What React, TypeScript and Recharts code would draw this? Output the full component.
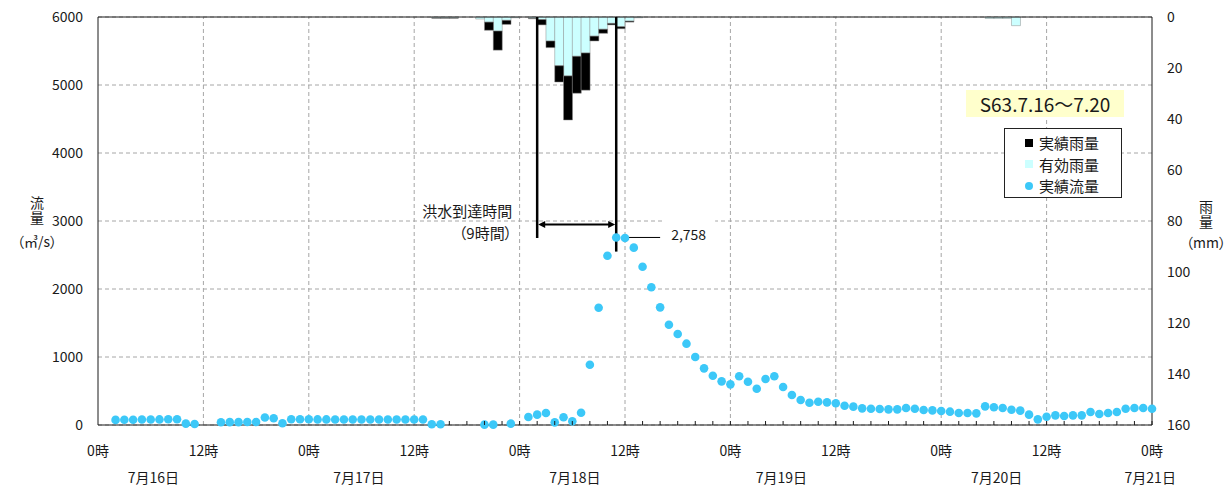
import { ComposedChart, Bar, Line, XAxis, YAxis, CartesianGrid, ReferenceLine } from "recharts";

const FONT = "'Noto Sans CJK JP', 'Noto Sans', sans-serif";
const INK = "#1a1a1a";
const GRID = "#a6a6a6";

// hours counted from 7/16 0時 (0) to 7/21 0時 (120)
const hours = Array.from({ length: 121 }, (_, i) => i);

// 実績流量 (m3/s), hourly, null = no record
const flow = [
  null, null, 75, 78, 78, 80, 80, 82, 85, 85,
  20, 15, null, null, 40, 42, 42, 45, 45, 110,
  100, 25, 85, 85, 85, 82, 82, 80, 80, 80,
  80, 80, 80, 80, 80, 80, 80, 80, 10, 10,
  null, null, null, null, 5, 5, null, 20, null, 118,
  152, 176, 39, 113, 54, 181, 887, 1725, 2490, 2758,
  2750, 2608, 2328, 2025, 1730, 1475, 1338, 1196, 1000, 833,
  725, 642, 598, 716, 637, 534, 676, 716, 559, 441,
  368, 328, 343, 333, 319, 284, 270, 245, 240, 235,
  230, 230, 250, 240, 220, 215, 205, 196, 176, 176,
  171, 274, 260, 250, 225, 211, 152, 83, 122, 142,
  132, 142, 142, 191, 162, 176, 191, 240, 250, 250,
  240,
];

// hourly rain (mm); a bar covers [hour, hour + 1)
const rainHours = [38, 39, 40, 43, 44, 45, 46, 47, 49, 50, 51, 52, 53, 54, 55, 56, 57, 58, 59, 60, 61, 101, 102, 103, 104];
const rainActual = [0.5, 0.5, 0.5, 0.8, 5.2, 13.0, 2.9, 0.3, 0.7, 3.1, 12.0, 25.5, 40.4, 29.9, 28.7, 9.4, 6.4, 3.1, 4.6, 2.0, 0.3, 0.6, 0.6, 0.6, 3.4];
const rainEffective = [0.4, 0.4, 0.4, 0.8, 2.0, 5.5, 1.3, 0.3, 0.5, 1.0, 9.4, 19.1, 23.1, 15.4, 14.1, 7.5, 4.8, 2.5, 3.8, 1.6, 0.3, 0.6, 0.6, 0.6, 3.4];

const flowTicks = [0, 1000, 2000, 3000, 4000, 5000, 6000];
const rainTicks = [0, 20, 40, 60, 80, 100, 120, 140, 160];
const hourTicks = Array.from({ length: 61 }, (_, i) => i * 2);
const gridHours = [12, 24, 36, 48, 60, 72, 84, 96, 108];
const dateHours = [6.3, 29.7, 54.3, 77.8, 102.3, 119.8];
const dateLabels = ["7月16日", "7月17日", "7月18日", "7月19日", "7月20日", "7月21日"];
const axisTicks = [...hourTicks, ...dateHours].sort((a, b) => a - b);

// 洪水到達時間
const floodStart = 50;
const floodPeak = 59;
const peakFlow = 2758;

const data = hours.map((h, i) => {
  const k = rainHours.indexOf(h);
  return {
    hour: h,
    flow: flow[i],
    effective: k < 0 ? 0 : rainEffective[k],
    loss: k < 0 ? 0 : Math.round((rainActual[k] - rainEffective[k]) * 10) / 10,
  };
});

function TimeTick({ x, y, payload }: any) {
  const h = payload.value;
  const d = dateHours.indexOf(h);
  if (d >= 0) {
    return (
      <text x={x} y={y + 58} textAnchor="middle" fontSize={14} fill={INK} fontFamily={FONT}>
        {dateLabels[d]}
      </text>
    );
  }
  return (
    <g>
      {h >= 40 && <line x1={x} y1={y} x2={x} y2={y - 4} stroke={INK} />}
      {h % 12 === 0 && (
        <text x={x} y={y + 31} textAnchor="middle" fontSize={14} fill={INK} fontFamily={FONT}>
          {h % 24}時
        </text>
      )}
    </g>
  );
}

function ArrivalArrow({ x1, y1, x2 }: any) {
  const head = 7;
  const half = 3.5;
  const txt = { fontSize: 15, fill: INK, fontFamily: FONT, fontFeatureSettings: '"palt"' } as any;
  return (
    <g>
      <line x1={x1 + head} y1={y1} x2={x2 - head} y2={y1} stroke="#000" strokeWidth={2} />
      <polygon points={`${x1 + 1},${y1} ${x1 + 1 + head},${y1 - half} ${x1 + 1 + head},${y1 + half}`} fill="#000" />
      <polygon points={`${x2 - 1},${y1} ${x2 - 1 - head},${y1 - half} ${x2 - 1 - head},${y1 + half}`} fill="#000" />
      <text x={x1 - 25} y={y1 - 14} textAnchor="end" dominantBaseline="central" style={txt}>
        洪水到達時間
      </text>
      <text x={x1 - 25} y={y1 + 8} textAnchor="end" dominantBaseline="central" style={txt}>
        （{floodPeak - floodStart}時間）
      </text>
    </g>
  );
}

function PeakLabel({ x1, y1, x2 }: any) {
  return (
    <g>
      <rect x={x2 + 3} y={y1 - 18} width={52} height={30} fill="#fff" />
      <line x1={x1 + 2} y1={y1} x2={x2} y2={y1} stroke="#000" strokeWidth={1} />
      <text x={x2 + 11} y={y1 - 3} dominantBaseline="central" fontSize={14} fill={INK} fontFamily={FONT}>
        {peakFlow.toLocaleString("en-US")}
      </text>
    </g>
  );
}

const abs = (left: number, top: number, extra: any = {}) => ({ position: "absolute" as const, left, top, ...extra });
const vtitle = (left: number, top: number) =>
  abs(left, top, { width: 16, fontSize: 14, lineHeight: "16px", writingMode: "vertical-rl", letterSpacing: 1 });

export default function App() {
  return (
    <div style={{ position: "absolute", left: 0, top: 0, width: 1231, height: 488, background: "#fff", fontFamily: FONT, color: INK }}>
      <ComposedChart width={1231} height={488} data={data} margin={{ top: 17, right: 0, bottom: 0, left: 0 }} barCategoryGap={0} barGap={0}>
        <CartesianGrid xAxisId="time" yAxisId="flow" vertical={false} stroke={GRID} strokeDasharray="4 3" />
        <XAxis
          xAxisId="time"
          dataKey="hour"
          type="number"
          domain={[0, 120]}
          ticks={axisTicks}
          interval={0}
          height={63}
          tickSize={0}
          tickMargin={0}
          tickLine={false}
          axisLine={{ stroke: INK }}
          tick={<TimeTick />}
        />
        <XAxis xAxisId="rain" orientation="top" height={0} dataKey="hour" type="number" domain={[-0.5, 119.5]} allowDataOverflow hide />
        <YAxis
          yAxisId="flow"
          width={98}
          domain={[0, 6000]}
          ticks={flowTicks}
          interval={0}
          tickSize={0}
          tickMargin={15}
          tickLine={false}
          axisLine={{ stroke: INK }}
          tick={{ fontSize: 14, fill: INK, fontFamily: FONT }}
        />
        <YAxis
          yAxisId="rain"
          orientation="right"
          reversed
          width={79}
          domain={[0, 160]}
          ticks={rainTicks}
          interval={0}
          tickSize={0}
          tickMargin={15}
          tickLine={false}
          axisLine={{ stroke: INK }}
          tick={{ fontSize: 14, fill: INK, fontFamily: FONT }}
        />
        {gridHours.map((h) => (
          <ReferenceLine key={h} x={h} xAxisId="time" yAxisId="flow" stroke={GRID} strokeDasharray="4 3" />
        ))}
        <ReferenceLine y={6000} xAxisId="time" yAxisId="flow" stroke={INK} />
        <Bar xAxisId="rain" yAxisId="rain" dataKey="effective" stackId="rain" fill="#ccffff" stroke="#8c8c8c" strokeWidth={0.5} isAnimationActive={false} />
        <Bar xAxisId="rain" yAxisId="rain" dataKey="loss" stackId="rain" fill="#000" stroke="#8c8c8c" strokeWidth={0.5} isAnimationActive={false} />
        <Line
          xAxisId="time"
          yAxisId="flow"
          dataKey="flow"
          stroke="none"
          dot={{ r: 4.3, fill: "#3cc8f8", stroke: "none" }}
          activeDot={false}
          isAnimationActive={false}
        />
        <ReferenceLine
          xAxisId="time"
          yAxisId="flow"
          segment={[{ x: floodStart, y: 6000 }, { x: floodStart, y: 2750 }]}
          stroke="#000"
          strokeWidth={2.5}
        />
        <ReferenceLine
          xAxisId="time"
          yAxisId="flow"
          segment={[{ x: floodPeak, y: 6000 }, { x: floodPeak, y: 2550 }]}
          stroke="#000"
          strokeWidth={2.5}
        />
        <ReferenceLine
          xAxisId="time"
          yAxisId="flow"
          segment={[{ x: floodStart, y: 2950 }, { x: floodPeak, y: 2950 }]}
          shape={<ArrivalArrow />}
        />
        <ReferenceLine
          xAxisId="time"
          yAxisId="flow"
          segment={[{ x: floodPeak + 1, y: peakFlow }, { x: floodPeak + 5, y: peakFlow }]}
          shape={<PeakLabel />}
        />
      </ComposedChart>

      <div style={vtitle(29, 196)}>流量</div>
      <div style={abs(6, 233, { width: 62, fontSize: 14, lineHeight: "16px", textAlign: "center", fontFeatureSettings: '"palt"' })}>
        （㎥/s）
      </div>
      <div style={vtitle(1198, 200)}>雨量</div>
      <div style={abs(1176, 234, { width: 60, fontSize: 14, lineHeight: "16px", textAlign: "center", fontFeatureSettings: '"palt"' })}>
        （mm）
      </div>

      <div style={abs(966, 90, { width: 158, height: 27, background: "#ffffcc", fontSize: 19, lineHeight: "27px", textAlign: "center" })}>
        S63.7.16～7.20
      </div>

      <div style={abs(1004, 128, { width: 116, height: 68, border: "1px solid #222", background: "#fff", fontSize: 15 })}>
        {[
          { label: "実績雨量", mark: { width: 8, height: 8, background: "#000" } },
          { label: "有効雨量", mark: { width: 8, height: 8, background: "#ccffff" } },
          { label: "実績流量", mark: { width: 8, height: 8, background: "#3cc8f8", borderRadius: "50%" } },
        ].map((item, i) => (
          <div key={item.label} style={abs(0, 3 + i * 21.7, { width: 116, height: 21, display: "flex", alignItems: "center" })}>
            <div style={{ marginLeft: 20, ...item.mark }} />
            <div style={{ marginLeft: 6, lineHeight: "21px" }}>{item.label}</div>
          </div>
        ))}
      </div>
    </div>
  );
}
